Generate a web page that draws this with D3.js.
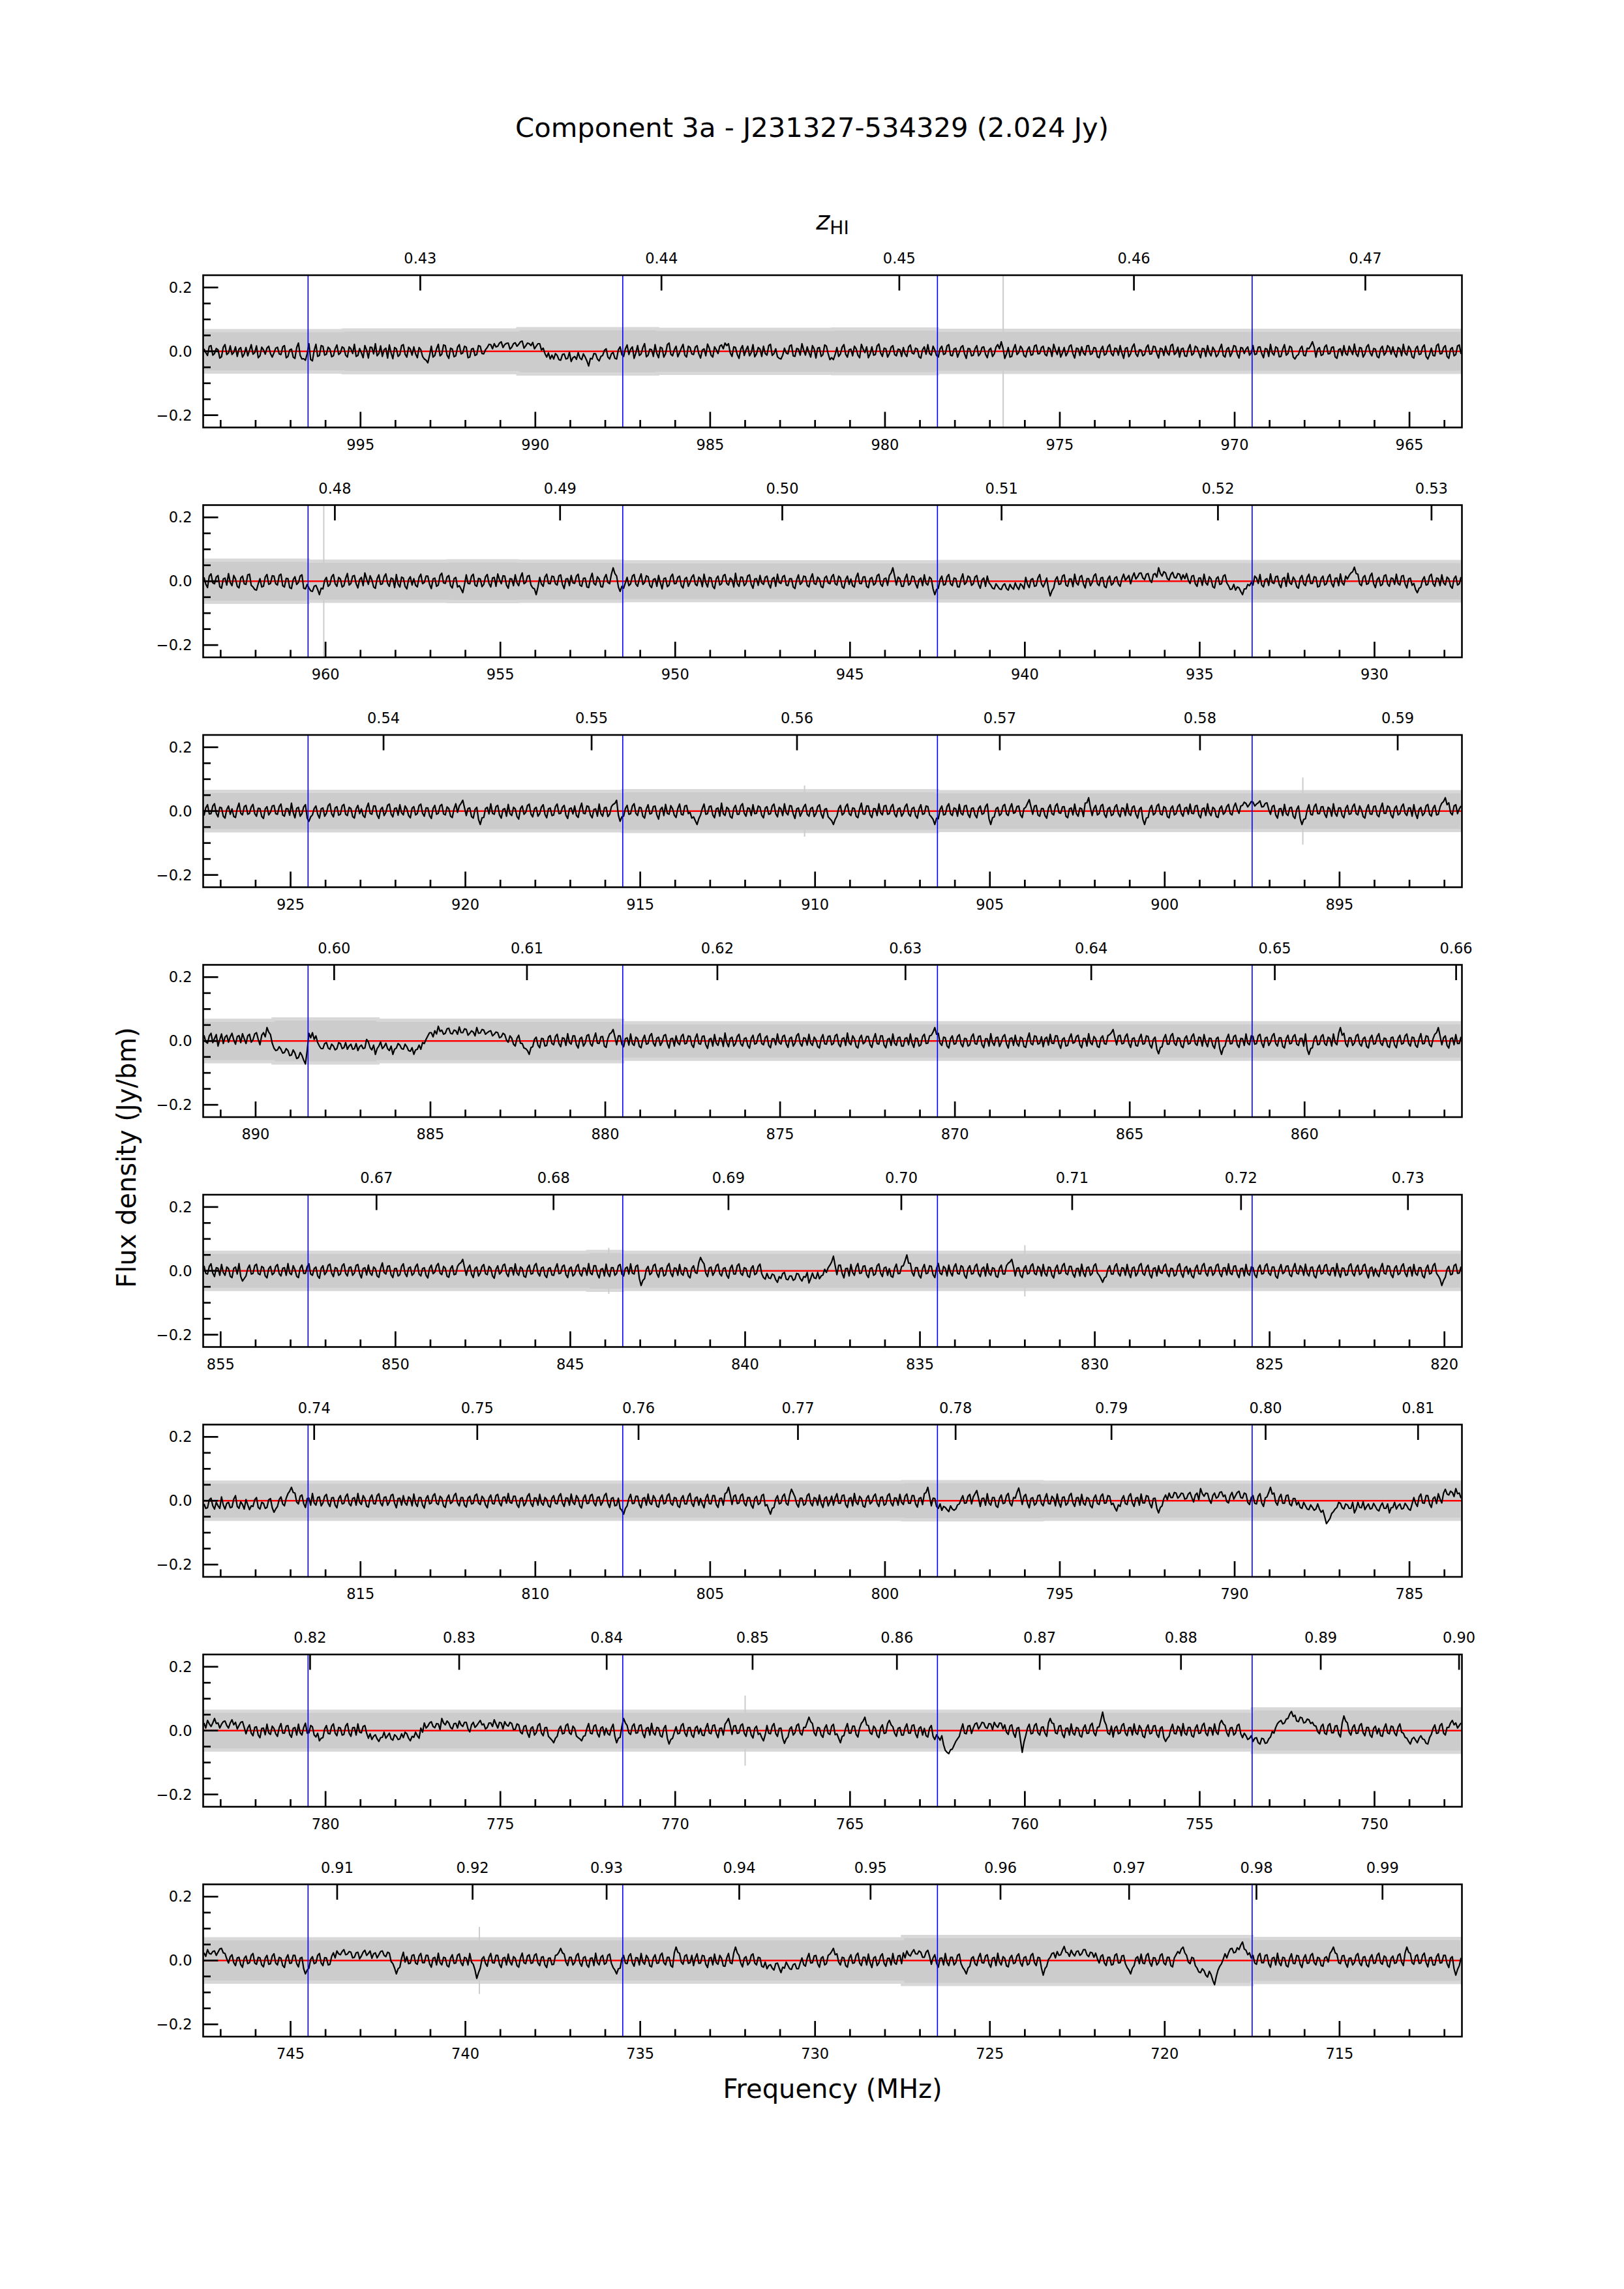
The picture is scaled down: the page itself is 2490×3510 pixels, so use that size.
<!DOCTYPE html>
<html><head><meta charset="utf-8">
<script src="https://cdn.jsdelivr.net/npm/d3@7/dist/d3.min.js"></script>
<style>body{margin:0;background:#fff}</style>
</head><body>
<script>
// ---------------- DATA ----------------
const titleText = "Component 3a - J231327-534329 (2.024 Jy)";
const xLabelText = "Frequency (MHz)";
const yLabelText = "Flux density (Jy/bm)";
const panelStart = [999.5, 963.5, 927.5, 891.5, 855.5, 819.5, 783.5, 747.5]; // MHz, left edge of each row
const panelSpan = 36;      // MHz per row
const chanWidth = 0.05;    // MHz per spectrum sample
const restFreq = 1420.405752;
const yTicks = [-0.2, 0.0, 0.2];
const zTicks = [
  [0.43,0.44,0.45,0.46,0.47],
  [0.48,0.49,0.50,0.51,0.52,0.53],
  [0.54,0.55,0.56,0.57,0.58,0.59],
  [0.60,0.61,0.62,0.63,0.64,0.65,0.66],
  [0.67,0.68,0.69,0.70,0.71,0.72,0.73],
  [0.74,0.75,0.76,0.77,0.78,0.79,0.80,0.81],
  [0.82,0.83,0.84,0.85,0.86,0.87,0.88,0.89,0.90],
  [0.91,0.92,0.93,0.94,0.95,0.96,0.97,0.98,0.99]
];
const markerLines = [996.5,987.5,978.5,969.5,960.5,951.5,942.5,933.5,924.5,915.5,906.5,897.5,
  888.5,879.5,870.5,861.5,852.5,843.5,834.5,825.5,816.5,807.5,798.5,789.5,780.5,771.5,762.5,753.5,
  744.5,735.5,726.5,717.5];
const modelLevel = [0, 0]; // Jy, fitted baseline
// noise envelope half-width (mJy) per 1 MHz
const bandHalf1 = [65,65,65,65,67,67,67,67,67,71,71,71,71,69,69,69,69,69,70,70,70,66,66,66,66,66,66,66,66,66,66,66,66,66,66,66];
const bandHalf2 = [66,66,66,63,63,63,63,64,64,63,63,63,61,61,61,61,61,61,61,61,61,62,62,62,62,62,62,62,62,62,62,62,62,62,62,62];
const bandHalf3 = [62,62,62,62,62,62,62,62,62,62,62,62,64,64,64,64,64,64,64,64,64,61,61,61,61,61,61,61,61,61,61,61,61,61,61,61];
const bandHalf4 = [65,65,69,69,69,65,65,65,65,65,65,65,57,57,57,57,57,57,57,57,57,57,57,57,57,57,57,57,57,57,57,57,57,57,57,57];
const bandHalf5 = [58,58,58,58,58,58,58,58,58,58,58,61,58,58,58,58,58,58,58,58,58,58,58,58,58,58,58,58,58,58,58,58,58,58,58,58];
const bandHalf6 = [58,58,58,58,58,58,58,58,58,58,58,58,58,58,58,58,58,58,58,58,60,60,60,60,58,58,58,58,58,58,58,58,58,58,58,58];
const bandHalf7 = [61,61,61,61,61,61,61,61,61,61,61,61,61,61,61,61,61,61,61,61,61,61,61,61,61,61,61,61,61,61,68,68,68,68,68,68];
const bandHalf8 = [68,68,68,68,68,68,68,68,68,68,68,68,68,68,68,68,68,68,68,68,75,75,75,75,75,75,75,75,75,75,69,69,69,69,69,69];
// narrow envelope spikes: [MHz, half-width Jy]
const bandSpikes = [[976.62,1.0],[960.05,1.0],[910.3,0.08],[896.05,0.105],[843.9,0.072],[832.0,0.08],[768.0,0.11],[739.6,0.105]];
// spectra (mJy), one sample per 0.05 MHz from the left edge of each row
const spec1 = [
8,-4,-13,16,18,-12,-7,9,5,-21,-17,13,21,-10,-5,17,-10,-3,14,-16,7,12,-18,-8,12,-14,3,21,-9,-4,17,-20,-14,13,5,-9,10,16,-7,-18,
-5,10,13,-8,-10,14,18,-20,-16,4,7,-18,-22,12,26,-13,-24,-23,-28,-7,24,-26,-30,3,22,-16,-13,18,16,-12,-9,13,7,-17,-14,8,20,-10,-5,14,
10,-12,-18,14,8,-7,22,-16,-13,9,-5,-20,18,4,-21,13,12,-8,24,-14,-7,17,-16,5,10,-21,20,-5,-23,12,8,-16,-10,18,21,-9,-18,13,7,-12,
14,-8,-20,12,5,-16,-24,-28,-36,-13,16,-18,-13,8,22,-14,-9,20,18,-12,-22,10,7,-17,-14,13,21,-8,-5,16,13,-20,-18,7,9,-13,-10,18,16,-7,
-8,5,12,22,21,8,24,14,16,26,30,12,21,25,26,7,13,24,27,16,22,30,32,10,17,26,24,18,28,8,16,24,24,4,10,-7,-18,-5,-24,-12,
-24,-7,-13,-26,-28,-10,-8,-24,-22,-3,-32,-20,-16,-25,-4,-21,-26,-8,-18,-30,-46,-22,-24,-7,-8,-24,-30,-16,-13,3,8,-18,-24,-8,-3,-22,-24,5,14,-10,
-16,8,20,-10,7,14,-22,-5,18,-13,-8,12,24,-17,-12,7,5,-16,21,-7,-20,13,10,-18,-7,21,26,-9,-14,5,16,-17,-4,10,22,-12,-18,16,12,-8,
-10,13,18,-8,-21,4,8,-14,23,10,-12,-18,14,5,-7,16,20,8,26,18,24,-5,-16,14,12,-10,-22,7,18,-13,4,16,-14,-4,21,-17,-8,12,7,-16,
16,-7,-12,18,22,-13,-7,8,-17,-22,-24,-12,10,-5,-8,17,20,-14,-16,9,7,-12,24,4,-12,14,-4,-18,18,7,-21,10,12,-16,-10,20,16,-8,-26,-20,
-26,-10,12,-16,-8,13,21,-9,-18,5,7,-14,16,8,-12,-20,22,7,-4,14,-20,-8,14,-12,-10,17,23,-5,-16,10,8,-18,-7,13,18,-10,-14,7,5,-16,
12,-8,-16,14,20,-5,-8,10,7,-17,-21,5,14,-9,21,-7,-12,16,4,-13,-18,8,16,-10,-7,17,21,-12,-14,7,10,-18,-4,13,18,-8,-22,9,8,-14,
-12,8,18,-14,-7,12,14,-9,-20,4,10,-16,-8,13,21,8,30,10,-22,-8,12,-18,-16,7,21,-10,-4,16,8,-13,-18,5,14,-12,-10,17,20,-8,-7,12,
16,-9,-14,12,7,-16,22,4,-10,13,-18,-5,12,-14,-4,16,20,-8,-21,10,8,-13,14,-5,-12,17,18,-10,-7,12,10,-17,-20,5,16,-12,-8,14,21,-7,
-14,10,8,-12,18,-5,-22,9,12,-17,-7,14,23,-8,-16,5,4,-14,-10,12,20,-9,-8,16,14,-7,-21,10,7,-13,16,-5,-12,18,22,-10,-4,13,-18,7,
10,-14,-16,8,21,-12,-7,16,12,-5,-20,9,8,-16,18,-4,-14,13,4,-17,-10,8,22,-13,-18,7,12,-16,-4,18,16,-9,-21,12,10,-7,7,14,-12,-4,
18,-10,-8,13,14,-7,-20,9,7,-16,22,-5,-12,14,10,-17,-16,7,21,-12,-7,16,12,-18,-24,-14,-10,8,16,-12,-14,10,8,18,30,13,-18,7,12,-13,
-10,14,20,-8,-7,12,14,-17,-22,5,8,-13,18,-7,-12,16,4,-10,23,-8,-16,12,10,-18,-8,14,21,-5,-14,9,7,-16,-20,8,16,-12,-4,18,12,-9,
14,-7,-18,12,8,-14,22,-5,-12,16,7,-17,-21,8,16,-10,-8,13,20,-16,-24,-10,10,-13,-14,18,23,-8,-7,12,18,-16,-22,7,12,-14,-10,17,20,-8];
const spec2 = [
12,-9,-20,16,23,-5,-8,13,18,-17,-22,7,10,-12,24,-4,-14,18,7,-16,-21,10,16,-8,-10,20,22,-13,-18,-26,-28,-8,8,-18,-16,13,21,-10,-7,17,
16,-8,-12,18,22,-14,-18,9,8,-20,-23,5,14,-10,-4,16,20,-22,-24,-10,-21,-30,-32,-16,-13,-26,-42,-22,-24,3,12,-16,-10,14,21,-8,-16,12,7,-18,
-14,9,24,-12,-7,16,18,-8,-21,5,12,-14,26,7,-10,17,4,-18,-22,8,20,-10,-8,14,23,-7,-16,10,7,-20,21,-9,-18,13,10,-16,-24,5,14,-12,
8,-13,-18,12,22,-8,-4,16,16,-10,-23,7,10,-16,-12,18,25,-5,-7,13,18,-14,-21,8,12,-18,-14,-24,-36,-10,20,-7,-8,16,22,-12,-16,9,7,-17,
-10,14,21,-7,-18,10,12,-16,23,5,-8,17,16,-12,-22,8,7,-14,20,-5,-14,12,26,-8,-4,16,18,-12,-21,-24,-42,-18,12,-9,-16,13,22,-7,-8,16,
14,-8,-12,17,20,-10,-23,7,8,-14,18,-5,-7,16,22,-12,-16,9,10,-18,-20,8,25,-7,-12,14,7,-17,-18,10,21,-4,-8,22,42,24,16,-18,-32,-16,
-22,-5,12,-14,-8,16,21,-9,-16,7,23,-10,-4,17,14,-13,-20,5,8,-16,18,-4,-24,8,10,-17,-12,14,22,-8,-7,12,16,-14,-21,7,12,-16,-4,13,
20,-9,-14,13,7,-17,22,-5,-18,12,10,-16,-23,8,16,-12,-8,17,21,-7,-12,10,4,-18,25,-8,-16,13,12,-14,-7,17,20,-10,-22,7,8,-13,18,-5,
-10,12,16,-9,-21,7,12,-16,22,-4,-7,14,18,-12,-14,8,8,-18,-23,5,20,-10,-4,16,14,-13,-18,9,23,-7,-10,13,7,-17,-20,10,16,-5,-8,14,
21,-8,-12,16,10,-17,-22,5,16,-10,7,-14,-18,12,25,-7,-8,13,14,-16,-20,8,12,-12,-7,17,22,-9,-16,7,10,-13,18,26,42,16,-12,13,8,-16,
-16,9,22,-12,-7,16,14,-8,-21,5,10,-14,20,-7,-12,13,7,-24,-42,-26,-22,5,16,-12,-10,14,21,-8,-14,10,8,-17,-18,7,23,-10,-4,16,12,-13,
-8,13,18,-10,-22,4,10,-16,16,-5,-12,-22,-24,-8,-16,-24,-26,-13,-8,-23,-28,-10,-20,-25,-5,-18,-26,-8,-14,-24,12,-9,-20,5,8,-16,-14,10,21,-8,
-18,-5,10,-24,-46,-30,-21,5,14,-10,-8,16,20,-12,-16,7,7,-17,22,-5,-12,13,18,-9,-21,8,8,-14,-4,17,23,-8,-14,10,12,-16,-20,7,16,-12,
-7,10,14,-9,-16,8,22,3,10,18,-8,13,26,7,14,25,26,10,5,22,24,4,-4,21,24,13,42,24,16,30,26,8,4,21,28,12,10,24,22,5,
20,8,24,3,-7,16,18,-8,-16,10,10,-13,22,-5,-12,14,7,-17,-21,8,14,-10,-8,16,20,-5,-14,-26,-24,-10,-28,-18,-21,-32,-42,-24,-24,-10,-14,-4,
-12,16,10,-7,21,-12,-18,5,8,-13,23,-4,-7,14,16,-10,-20,8,12,-16,25,-5,-10,13,4,-17,-22,9,18,-8,-14,12,22,-7,-7,14,12,-18,-16,8,
16,-12,-8,13,21,-7,-18,9,10,-14,23,-5,-12,16,7,18,26,30,44,24,22,-8,-14,12,18,-10,-7,16,25,-8,-20,5,12,-14,-10,17,20,-9,-16,10,
8,-10,22,-7,-12,16,18,-9,-21,7,10,-13,-7,-26,-36,-22,-18,4,14,-12,-10,16,22,-8,-16,10,8,-14,20,-5,-12,13,7,-16,-22,8,16,-12,-8,13];
const spec3 = [
-14,10,20,-9,-8,16,23,-7,-18,12,10,-16,-22,5,16,-10,7,-17,-20,8,25,-7,-12,14,18,-10,-7,13,21,-8,-16,9,8,-17,-23,7,14,-12,-4,16,
18,-8,-10,14,22,-12,-16,8,7,-13,25,-5,-21,9,12,-16,-8,13,20,-22,-32,-18,-12,8,16,-10,-22,7,10,-16,-7,17,23,-8,-18,10,14,-13,-10,16,
21,-10,-14,12,8,-17,-22,7,18,-8,7,-14,-20,10,25,-7,-10,16,16,-12,-23,5,12,-14,-4,18,22,-9,-18,8,10,-13,20,-5,-12,16,7,-14,-21,9,
14,-12,-8,17,22,-7,-16,10,10,-14,-23,8,18,-10,-7,16,21,-9,-12,13,8,-16,-20,7,23,-4,16,24,34,10,-14,8,10,-17,-22,5,12,-26,-42,-21,
-20,8,12,-9,23,-7,-10,14,18,-12,-22,5,8,-16,21,-8,-14,12,7,-17,-25,8,16,-10,-4,17,22,-9,-18,7,12,-16,-8,13,20,-10,-21,7,10,-14,
-12,14,22,-8,-7,12,18,-13,-23,7,10,-9,16,-14,-20,8,25,-7,-8,16,14,-12,-21,5,7,-16,22,-8,-16,10,12,-17,-10,14,21,24,34,-13,-32,-18,
-16,8,18,-10,-8,16,23,-7,-14,12,10,-16,-22,7,20,-9,-7,14,16,-12,-25,5,12,-14,21,-7,-10,17,7,-13,-20,8,22,-10,-12,16,18,-8,-4,-22,
-18,-30,-42,-24,-12,8,22,-10,-8,14,16,-12,-21,7,10,-16,25,-8,-14,12,7,-17,-22,8,18,-10,-10,16,23,-7,-16,10,8,-14,20,-8,-7,16,12,-13,
-21,9,14,-10,-8,16,22,-8,-18,12,7,-14,23,-5,-12,17,16,-9,-23,7,10,-16,-4,13,21,-10,-16,8,12,-17,-8,14,20,-9,-22,5,8,-18,-24,-30,
-42,-26,-16,8,18,-12,-7,14,22,-8,-14,10,8,-16,-21,7,25,-9,-10,16,16,-12,-20,8,7,-14,23,-5,-12,16,18,-10,-8,13,21,-9,-18,7,10,-16,
-7,14,22,-9,-16,8,12,-14,-22,7,20,-10,-8,16,14,-12,-18,-26,-42,-22,-24,5,16,-12,-10,14,23,-8,-14,10,7,-16,21,-7,-12,16,18,-10,-20,8,
10,-12,-21,8,16,-10,-7,14,22,-24,-42,-21,-18,7,12,-14,-8,16,21,-9,-14,10,23,-7,-4,14,16,-12,-20,8,12,24,36,13,-10,16,18,-12,-16,8,
8,-14,-22,9,20,-8,-12,16,23,-5,-7,13,14,-16,-21,7,10,-12,22,-8,-16,10,7,-17,25,26,42,10,-14,8,18,-12,-8,16,21,-10,-20,7,12,-14,
-10,13,20,-8,-18,10,8,-14,23,-7,-14,12,16,-10,-22,5,12,-26,-42,-22,-20,7,18,-12,-7,16,22,-9,-12,14,10,-17,-21,8,16,-12,-8,14,21,-7,
-16,9,12,-10,22,-7,-8,16,18,-12,-21,7,10,-14,23,-5,-14,12,7,-17,-20,8,16,-10,-4,14,21,-8,-12,13,25,5,-7,16,18,28,24,13,21,30,
28,16,22,26,32,13,14,24,26,5,-10,14,18,-12,-22,7,8,-14,21,-8,-14,10,12,-16,-23,5,16,-24,-42,-26,-24,4,20,-10,-12,14,22,-8,-8,13,
14,-9,-20,12,7,-16,23,-7,-16,10,10,-14,-21,8,18,-10,-8,14,22,-8,-12,16,4,-17,-22,7,20,-9,-10,14,16,-12,-18,8,25,-7,-7,16,12,-13,
-21,8,16,-12,-8,14,22,-7,-14,10,10,-16,20,-8,-23,5,12,-14,-7,16,21,-10,-16,9,18,-12,-10,13,25,30,42,20,26,-5,-12,16,20,-8,7,16];
const spec4 = [
18,-3,-7,16,24,-5,8,20,-16,4,22,-8,12,18,-4,13,24,3,-10,14,17,-5,23,7,-8,16,21,-4,4,22,26,5,-12,18,26,13,42,28,20,-7,
-22,-30,-28,-18,-26,-38,-36,-24,-30,-46,-44,-28,-38,-55,-52,-36,-45,-60,-72,-30,24,10,26,5,16,-5,-16,-24,-24,-8,-5,-22,-26,-10,-16,-28,-24,-5,-8,-24,
-21,-5,-26,-16,-10,-26,-24,-8,-30,-18,-13,-24,-22,5,-3,-21,-28,-13,-42,-24,-16,-3,-24,-18,-7,-24,-30,-16,-42,-26,-22,-8,-13,-24,-26,-10,-18,-30,-32,-21,
-42,-28,-26,-13,-26,-5,-8,5,16,26,26,13,32,22,46,30,34,21,24,38,40,24,22,34,32,21,44,26,26,38,36,18,24,32,28,16,42,24,25,36,
34,21,26,30,32,16,21,28,26,10,13,24,20,3,-4,16,9,-10,-16,8,18,-7,-8,-22,-24,-30,-42,-21,-18,5,12,-13,-21,8,7,-16,-14,12,17,-8,
-12,14,21,-8,-18,10,8,-14,23,-5,-10,16,16,-12,-22,7,12,-16,-7,17,20,-9,-16,8,25,-7,-8,13,14,-16,-20,8,22,26,36,13,-12,16,16,-10,
-18,7,10,-13,22,-8,-14,12,7,-17,-21,5,18,-10,-8,16,23,-7,-16,9,12,-14,-4,17,20,-8,-22,7,8,-16,16,-5,-12,14,21,-9,-7,16,14,-12,
-20,9,22,-8,-10,14,16,-12,-23,5,8,-16,20,-7,-14,10,7,-17,25,-5,-18,8,12,-16,-8,14,21,-9,-16,7,10,-14,-22,8,18,-10,-7,16,23,-8,
-12,10,16,-14,-21,7,7,-12,22,-5,-10,14,18,-9,-20,8,12,-16,-7,17,23,-8,-16,10,8,-13,21,-7,-14,12,4,-17,-22,8,20,-9,-10,14,16,-12,
-8,16,21,-10,-18,7,10,-14,25,-5,-12,16,7,-17,-22,8,18,-9,-4,14,14,-12,-20,7,23,-8,-10,16,16,-13,-21,5,8,-14,22,-7,-14,10,12,-16,
-16,8,10,-12,22,-7,-20,9,8,-16,-12,14,21,-8,-7,16,18,28,42,21,24,-7,-14,12,10,-16,-22,7,16,-10,-8,14,20,-9,-18,8,7,-16,-12,13,
22,-8,-10,14,16,-12,-21,7,7,-16,23,-5,-14,10,12,-17,-4,14,20,-9,-22,7,10,-14,18,-8,-16,12,8,-17,-20,7,25,-8,-12,16,14,-10,-7,13,
-18,7,12,-13,21,-7,-8,16,16,-10,-23,5,10,-16,-14,9,22,-7,-4,14,18,-12,-21,8,8,-16,23,-5,-12,14,7,-17,-20,9,16,-8,-10,17,20,26,
36,10,-12,16,18,-9,-7,14,22,-8,-20,7,10,-14,-16,8,21,-10,-8,16,14,-12,-22,5,12,-26,-40,-21,-18,8,20,-10,-10,16,23,-7,-14,10,8,-16,
-21,8,16,-10,-7,14,22,-8,-14,12,10,-16,20,-5,-18,9,8,-14,-23,7,12,-24,-42,-22,-16,7,21,-9,-8,14,18,-12,-20,8,7,-14,22,-7,-12,16,
14,-10,-8,16,21,-7,-20,9,12,-14,-4,16,23,-8,-16,10,10,-17,-22,7,18,-9,-7,14,20,-10,-14,8,8,-16,22,-26,-42,-24,-21,7,16,-12,-10,14,
20,-8,-14,12,8,-16,22,-5,-12,24,42,18,24,-8,-18,10,10,-14,-7,16,21,-9,-16,7,12,-17,-22,8,18,-10,-8,14,23,-7,-14,9,7,-16,-20,10,
12,-13,-21,8,18,-10,-7,16,22,-8,-16,12,10,-14,-20,7,23,-9,-8,16,14,-12,-18,7,21,26,42,16,-12,10,16,-14,-22,7,10,-12,20,-8,-8,13];
const spec5 = [
16,-8,-10,14,22,-7,-18,10,8,-14,20,-5,-14,12,7,-17,-21,8,12,-10,23,-18,-32,-24,-16,7,18,-10,-8,16,21,-9,-12,14,10,-16,-22,7,14,-12,
-7,14,20,-9,-16,8,10,-14,23,-7,-12,16,4,-17,-21,9,18,-8,-8,13,22,-10,-14,7,12,-16,-23,8,16,-12,-4,17,21,-7,-18,10,8,-14,-10,16,
22,-8,-16,10,12,-14,-7,17,20,-9,-22,7,10,-13,18,-7,-14,12,7,-16,-20,8,25,-5,-10,14,16,-12,-21,7,8,-16,-12,14,22,-8,-18,9,12,-14,
-8,13,21,-10,-16,7,10,-14,-22,8,18,-9,-4,16,23,-7,-12,14,8,-17,-20,7,16,-12,-10,14,22,26,36,10,-14,8,18,-10,-21,7,12,-16,-7,14,
20,-9,-12,14,8,-16,-23,5,16,-10,-4,17,21,-8,-18,9,10,-13,22,-7,-14,12,7,-17,-20,8,18,-10,-8,16,23,-7,-16,9,12,-14,-21,7,10,-13,
-14,8,22,-9,-7,14,18,-12,-21,7,12,-16,-10,13,20,-8,-16,9,8,-14,23,-7,-12,16,16,-10,-22,5,7,-16,21,-8,-18,10,10,-14,-8,16,20,-10,
-16,8,12,-10,22,-7,-10,14,18,-24,-46,-30,-24,5,14,-12,-7,16,21,-8,-20,7,10,-16,-12,14,23,-7,-18,9,8,-14,20,-8,-14,10,7,-16,-22,8,
16,-5,-8,26,42,30,22,-7,-18,9,12,-14,-4,16,21,-9,-16,7,10,-14,-23,8,18,-10,-10,16,22,-8,-14,10,7,-16,-20,8,16,-12,-8,14,21,-9,
-21,-26,-8,-22,-24,-10,-13,-28,-36,-18,-24,-8,-5,-26,-28,-16,-16,-30,-26,-8,-10,-24,-32,-18,-20,-5,-38,-24,-7,-22,-24,-5,-25,-16,-13,5,-5,10,18,28,
46,16,-12,17,18,-8,-22,7,8,-16,20,-5,-14,12,23,-8,-7,14,16,-12,-21,7,10,-14,-10,16,22,-7,-18,9,12,-14,7,-17,-20,8,21,-9,-8,14,
16,32,50,24,24,-5,-16,10,10,-14,-22,7,20,-9,-7,16,14,-12,-21,8,23,-7,-12,14,8,-16,18,-5,-16,12,22,-8,-10,16,12,-14,-23,7,16,-10,
-8,14,21,-9,-18,7,12,-16,22,-7,-14,10,7,-17,-20,8,18,-10,-10,16,24,28,36,13,-16,8,10,-14,-21,7,16,-10,-7,16,22,-8,-12,14,8,-16,
20,-8,-16,12,10,-14,-22,7,18,-9,-7,16,23,-8,-12,14,14,-10,-20,7,8,-16,21,-7,-18,10,12,-14,-8,16,22,-7,-14,-24,-36,-22,-18,5,16,-10,
-10,14,22,-8,-16,10,8,-14,20,-7,-21,9,12,-16,-7,17,23,-8,-14,10,18,-12,-22,7,10,-16,16,-5,-8,14,21,-9,-18,8,7,-16,-12,14,22,-8,
-20,8,14,-10,8,-16,-22,7,18,-9,-10,16,23,-7,-16,10,12,-14,-7,17,21,-8,-18,9,10,-13,22,-7,-12,14,16,-10,-21,7,8,-16,20,-8,-14,12,
10,-12,-21,8,18,-10,-8,16,22,-7,-14,12,12,-17,-23,5,20,-9,-4,14,16,-12,-18,8,23,-7,-10,16,8,-14,21,-8,-16,10,12,-16,-22,7,18,-10,
-7,16,20,-9,-14,8,10,-16,23,-5,-20,9,8,-14,-12,16,22,-8,-16,10,18,-12,-8,16,21,-7,-22,8,12,-16,7,-10,-18,8,23,-7,-10,16,14,-12,
-21,8,16,-12,-8,14,22,-7,-18,9,12,-16,20,-8,-14,10,10,-16,-22,7,18,-10,-7,16,23,-8,-16,-26,-46,-30,-20,5,14,-12,-10,16,21,-8,-7,13];
const spec6 = [
-10,-24,-22,3,8,-16,-26,-5,-16,-24,12,-13,-26,-8,-5,-22,-20,5,16,-18,-24,-3,-12,-26,4,-13,-28,-16,-18,3,10,-21,-26,-5,-8,-24,-21,3,7,-22,
-36,-26,-18,4,12,-10,-16,8,22,30,42,26,24,-4,-10,14,18,-9,-21,7,8,-14,23,-7,-14,10,12,-16,-7,14,20,-8,-18,9,10,-14,-22,7,16,-10,
-8,13,21,-9,-16,7,10,-14,23,-5,-12,16,7,-17,-20,8,18,-9,-10,16,22,-7,-16,10,12,-14,-4,17,20,-8,-22,7,8,-14,16,-7,-14,12,7,-16,
21,-8,-18,10,10,-14,-23,7,16,-10,-7,16,22,-8,-12,14,8,-16,-21,7,18,-9,-4,16,23,-7,-16,10,10,-14,-20,8,14,-10,-8,16,21,-7,-12,14,
7,-13,-22,8,18,-9,-10,16,20,-7,-16,10,12,-8,23,-5,-8,14,14,-12,-21,7,10,-16,-7,14,22,-8,-18,9,8,-14,20,-7,-14,10,4,-16,-20,8,
16,-8,-10,14,22,-7,-18,9,8,-14,21,-5,-12,16,7,-17,-23,8,18,-9,-8,16,20,-7,-16,10,12,-14,-4,16,23,-8,-21,7,10,-16,-14,8,-24,-30,
-42,-24,-16,7,20,-9,-8,14,14,-12,-22,7,10,-14,21,-7,-12,16,7,-17,-20,8,18,-10,-7,16,22,-8,-14,10,8,-16,-21,7,16,-10,-10,14,23,-8,
-18,8,12,-14,7,-10,-22,8,20,-9,-10,16,16,-12,-21,7,8,-14,22,26,42,18,-12,14,18,-9,-7,16,21,-8,-16,10,10,-14,-23,7,14,-12,-8,16,
20,-16,-12,-28,-42,-24,-21,5,16,-10,-7,14,21,-8,-14,18,36,24,12,-10,-20,8,8,-14,-10,16,22,-7,-16,10,7,-14,18,-8,-21,7,12,-16,-4,14,
-14,9,22,-8,-8,16,18,-12,-21,7,10,-16,23,-5,-12,14,7,-17,-20,8,16,-10,-4,14,21,-8,-18,10,12,-14,-10,16,22,-7,-16,9,8,-14,20,-5,
-12,14,21,-8,-8,16,16,-10,-20,7,10,-12,22,26,42,13,-16,8,7,-18,-24,-10,-30,-18,-21,-28,-34,-16,-26,-30,-26,-13,-10,4,16,-8,-7,14,20,-10,
12,22,32,8,-18,7,8,-14,22,-7,-14,10,10,-16,-21,7,18,-9,-7,16,23,-8,-16,10,8,26,40,16,-12,14,20,-8,-22,7,10,-14,-8,16,18,-9,
-16,8,22,-9,-10,14,7,-16,21,-7,-20,10,12,-14,-8,16,23,-7,-18,9,10,-14,20,-8,-14,10,7,-16,-22,8,18,-9,-12,14,21,-8,-7,16,14,-12,
-8,-22,-32,-13,-18,5,16,-9,-12,14,22,-7,-18,8,10,-14,21,-7,-7,16,14,-10,-22,7,8,-24,-38,-21,-16,7,18,3,24,10,10,26,24,8,14,24,
22,5,7,21,26,10,-4,18,24,3,38,22,14,24,23,3,-8,16,24,8,12,26,28,13,18,-3,-7,16,26,5,16,26,30,10,8,24,21,-5,-12,10,
16,-8,-10,14,22,-7,-18,9,12,26,42,21,24,-5,-14,10,20,-8,-8,16,18,-10,-16,7,7,-13,-4,-21,-24,-5,-16,-26,-28,-13,-21,-30,-26,-10,-26,-36,
-30,-50,-72,-64,-56,-40,-34,-26,-21,-5,-8,-22,-26,-10,-13,-24,-24,-5,-38,-26,-5,-21,-22,-3,-28,-18,-10,-26,-24,-8,-18,-28,-32,-16,-7,-24,-24,-10,-38,-22,
-21,-5,-26,-16,-10,-26,-24,-8,-16,-26,-30,-10,10,-8,-18,12,21,-7,-8,16,16,-10,-21,7,12,-9,22,5,-7,24,36,21,18,30,26,13,38,22,24,8];
const spec7 = [
24,8,32,21,13,24,38,22,24,8,20,28,30,16,8,24,34,18,26,5,16,26,28,10,-10,8,18,-8,-16,10,12,-14,-22,7,8,-13,20,-7,-12,14,
7,-10,-18,9,22,-8,-8,14,16,-12,-21,7,10,-14,20,-7,-14,10,23,-8,-7,16,12,-14,-20,-8,-32,-24,-22,5,16,-9,-10,14,21,-8,-16,10,8,-14,
-12,14,22,-8,-18,9,10,-14,21,-5,-7,13,16,-8,-24,-10,-28,-18,-13,-26,-34,-22,-21,-5,-24,-16,-8,-26,-30,-13,-18,-28,-26,-10,-22,-5,-10,-24,-32,-18,
-21,-5,-16,-24,8,-5,24,8,14,24,28,13,9,22,21,3,38,24,18,30,24,10,5,22,23,8,30,18,13,26,26,5,-4,18,26,10,16,24,32,18,
21,5,10,24,24,13,34,21,8,26,24,5,28,18,14,26,22,3,4,21,18,-5,-10,13,16,-8,-21,7,12,-14,-7,16,22,-8,-16,9,10,-18,-24,-30,
-38,-24,-18,5,14,-10,-8,16,21,-7,-12,14,7,-17,-22,-26,-32,-18,-16,7,22,-8,-10,14,18,-9,-20,8,12,-14,7,-10,-14,8,20,-18,-38,-24,-21,13,
38,24,16,-7,-12,14,21,-8,-7,16,18,-10,-22,7,10,-14,23,-7,-14,10,8,-16,-20,7,16,-24,-42,-28,-24,-5,12,-10,-8,16,22,-7,-18,9,10,-14,
-21,8,14,-10,7,-14,-16,8,22,-7,-10,16,18,-9,-22,7,8,-14,20,28,38,16,-12,14,16,-9,-7,16,21,-8,-18,10,10,-14,-23,7,14,-12,-8,-22,
-32,-13,16,-8,-10,14,22,-9,-18,7,8,-24,-40,-26,-20,5,12,-14,-7,16,21,-8,-14,10,10,26,42,28,22,-7,-16,10,8,-14,-21,7,18,-9,-12,14,
20,-13,-10,-24,-38,-18,-16,7,22,-8,-8,14,14,-12,-20,8,23,30,42,18,16,-7,-12,14,7,-16,-22,8,18,-9,-7,22,32,18,12,-8,-18,7,10,-14,
-14,9,21,-8,-8,16,18,-10,-22,7,12,-14,7,-16,-20,8,16,-18,-28,-13,-21,-30,-16,-44,-62,-68,-72,-60,-58,-46,-34,-26,-18,3,21,-8,-10,14,16,-9,
8,21,24,5,14,26,24,10,7,22,21,3,26,16,10,24,23,5,18,-5,-12,14,18,-9,-21,7,10,-30,-68,-36,-16,8,20,-10,-8,16,22,-7,-14,10,
12,-8,-18,24,38,24,22,-7,-10,14,16,-12,-22,7,8,-14,21,-8,-14,10,7,-16,-20,8,18,-9,-8,16,23,-7,-16,10,12,34,58,30,18,-8,-12,14,
-20,8,14,-10,-7,16,22,-8,-16,9,10,-14,21,-7,-12,16,7,-17,-22,7,18,-10,-8,14,16,-12,-21,7,12,-22,-34,-24,-18,5,20,-9,-10,14,8,-16,
22,-8,-14,10,10,-16,-20,7,18,-9,-7,16,23,-8,-16,10,8,-14,21,-5,-12,22,32,21,16,-7,-18,8,10,-14,-8,16,20,-10,-22,-8,-16,-28,-24,-16,
-34,-24,-22,-38,-42,-24,-26,-40,-38,-26,-20,-3,-8,10,22,28,32,21,24,36,38,52,60,44,48,30,28,42,40,24,26,36,34,22,26,16,14,-3,-10,13,
20,-8,-12,16,22,-7,-7,14,16,-10,-20,24,46,30,24,-5,-14,10,18,-9,-8,16,22,-7,-16,10,10,-14,-21,7,14,-10,7,-16,-18,8,21,-7,-10,14,
12,-8,-16,10,21,-5,-8,-21,-24,-34,-42,-26,-21,-30,-38,-24,-16,-26,-28,-40,-42,-22,-12,7,18,-9,-7,16,22,-8,-14,10,10,24,32,18,24,8,16,24];
const spec8 = [
24,13,34,22,20,28,30,16,26,36,38,24,22,5,-8,12,18,-7,-16,8,10,-13,-21,7,14,-10,-7,16,22,-8,-12,10,8,-14,-20,7,16,-12,-10,14,
21,-8,-14,10,7,-16,-22,7,18,-9,-8,16,16,-10,-20,7,10,-26,-42,-30,-24,4,12,-10,-7,16,22,-8,-16,9,8,-14,-12,13,24,8,30,21,18,28,
34,18,20,28,26,8,10,24,26,5,14,26,32,16,22,30,7,21,24,8,18,28,30,16,12,26,23,-3,-10,-24,-42,-26,-21,7,26,-5,12,-10,-8,16,
18,-8,-12,14,22,-7,-7,16,16,-10,-21,7,10,-14,23,-7,-14,10,8,-16,-20,7,18,-9,-8,16,21,-7,-16,10,7,-14,22,-5,-12,-30,-56,-38,-24,5,
12,-9,-18,10,22,-7,-8,16,16,-12,-22,7,10,-14,20,-5,-14,12,7,-16,-21,8,23,-7,-10,14,18,-9,-7,16,21,-8,-16,10,12,-14,-22,7,8,-13,
-12,16,18,26,38,24,20,-5,-16,10,10,-14,-7,16,22,-8,-18,9,12,-14,-21,7,8,-16,23,-7,-14,10,16,-12,-8,16,20,-9,-22,-30,-42,-26,-24,5,
16,-8,-10,14,21,-7,-18,9,8,-14,22,-5,-12,16,7,-17,-20,8,18,-9,-8,16,23,-7,-14,10,10,-16,-21,24,42,26,22,-5,-12,14,18,-9,-7,16,
-16,8,21,-9,-8,16,14,-12,-22,7,10,-14,20,-7,-12,16,7,-17,-18,8,22,-7,-10,24,42,24,16,-8,-20,7,12,-14,-7,16,21,-8,-14,10,8,-18,
-21,-5,-26,-16,-13,-24,-30,-10,-8,-24,-38,-21,-24,-5,-16,-26,-28,-13,-10,-26,-26,-8,8,-13,-18,7,22,-8,-7,14,16,-10,-21,7,12,-14,-10,16,20,28,
38,18,21,-5,-14,10,8,-16,-21,7,18,-9,-7,16,23,-8,-16,10,10,-14,20,-7,-22,8,12,-16,-8,14,21,-9,-18,7,7,-14,22,-7,-12,14,16,-10,
24,8,30,18,14,26,34,21,20,30,26,10,10,26,32,13,-12,8,18,-9,-21,7,8,-14,22,-7,-16,10,10,-14,-7,16,20,-10,-22,-30,-42,-24,-18,7,
12,-10,-16,9,22,-7,-8,14,18,-10,-21,7,10,-16,23,-5,-14,12,7,-17,-20,8,16,-10,-7,14,21,-8,-18,9,12,-14,-10,16,22,-7,-16,10,8,-24,
-46,-26,-18,3,10,22,24,8,28,16,18,32,44,26,24,13,32,21,14,28,30,16,21,34,34,18,12,26,24,10,23,5,-8,13,18,-8,-16,10,10,-14,
-12,16,21,-8,-7,14,16,-10,-22,-30,-42,-24,-16,7,12,-10,20,-8,-10,16,22,-7,-18,9,8,-14,-7,16,21,-8,-14,10,10,-16,-20,8,18,28,22,36,
42,24,16,-5,-10,10,7,-16,-24,-36,-38,-26,-32,-46,-52,-34,-44,-62,-76,-50,-30,-18,-10,5,21,8,24,36,38,24,26,40,34,48,58,36,32,18,24,8,
16,-8,-12,14,22,-7,-7,16,18,-10,-21,7,10,-14,23,-7,-16,10,8,-16,-20,7,21,-9,-10,16,14,-12,-22,7,18,-9,-8,16,22,-7,-14,10,7,-16,
-18,8,12,-5,22,30,42,24,20,-7,-10,14,16,-9,-21,7,8,-14,-7,16,22,-8,-16,10,12,-14,-20,8,18,-9,-8,16,23,-7,-12,14,10,-16,-21,7,
14,-9,-7,16,21,-5,-16,24,42,26,22,-7,-12,14,18,-9,-8,16,23,-7,-20,8,10,-14,-14,12,21,-8,-7,16,16,-10,-22,7,12,-26,-46,-28,-16,8];

const spectra = [spec1, spec2, spec3, spec4, spec5, spec6, spec7, spec8];
const bands = [bandHalf1, bandHalf2, bandHalf3, bandHalf4, bandHalf5, bandHalf6, bandHalf7, bandHalf8];

// ---------------- LAYOUT ----------------
const W = 2490, H = 3510;
const L = 311.5, R = 2241.5, T0 = 422, STEP = 352.5, PH = 233.5;
const FONT = "'DejaVu Sans', sans-serif";
const tickFS = 22.5, labelFS = 40;

const svg = d3.select("body").append("svg")
  .attr("width", W).attr("height", H)
  .attr("font-family", FONT);
svg.append("rect").attr("width", W).attr("height", H).attr("fill", "#fff");
svg.append("defs").append("clipPath").attr("id", "pclip")
  .append("rect").attr("x", L).attr("y", 0).attr("width", R - L).attr("height", PH);

const y = d3.scaleLinear().domain([-0.2385, 0.2385]).range([PH, 0]);
const fmtY = v => (v < 0 ? "\u2212" : "") + Math.abs(v).toFixed(1);

panelStart.forEach((f0, p) => {
  const f1 = f0 - panelSpan;
  const x = d3.scaleLinear().domain([f0, f1]).range([L, R]);
  const g = svg.append("g").attr("transform", `translate(0,${T0 + STEP * p})`);
  const inner = g.append("g").attr("clip-path", "url(#pclip)");

  // noise envelope
  const bh = bands[p];
  const bpts = bh.map((v, i) => [f0 - i, v / 1000]);
  bpts.push([f1, bh[bh.length - 1] / 1000]);
  inner.append("path").datum(bpts)
    .attr("d", d3.area().x(d => x(d[0])).y0(d => y(-d[1])).y1(d => y(d[1])).curve(d3.curveStepAfter))
    .attr("fill", "#cccccc").attr("stroke", "#d8d8d8").attr("stroke-width", 5);

  // envelope spikes
  inner.selectAll(".spk").data(bandSpikes.filter(s => s[0] <= f0 && s[0] >= f1)).enter()
    .append("line")
    .attr("x1", d => x(d[0])).attr("x2", d => x(d[0]))
    .attr("y1", d => y(d[1])).attr("y2", d => y(-d[1]))
    .attr("stroke", "#cccccc").attr("stroke-width", 2);

  // model baseline (red)
  inner.append("path").datum(modelLevel.map((v, i) => [i === 0 ? f0 : f1, v]))
    .attr("d", d3.line().x(d => x(d[0])).y(d => y(d[1])))
    .attr("stroke", "#ff0000").attr("stroke-width", 2.6).attr("fill", "none");

  // spectrum (black)
  const spec = spectra[p];
  inner.append("path").datum(spec)
    .attr("d", d3.line().x((d, i) => x(f0 - chanWidth * (i + 0.5))).y(d => y(d / 1000)))
    .attr("stroke", "#000").attr("stroke-width", 2.2).attr("fill", "none")
    .attr("stroke-linejoin", "round");

  // marker lines (blue)
  inner.selectAll(".mk").data(markerLines.filter(m => m < f0 && m > f1)).enter()
    .append("line")
    .attr("x1", d => x(d)).attr("x2", d => x(d))
    .attr("y1", 0).attr("y2", PH)
    .attr("stroke", "#0000ff").attr("stroke-width", 1.6);

  // left ticks
  const yMinor = d3.range(-4, 5).map(k => k * 0.05);
  g.selectAll(".yt").data(yMinor).enter().append("line")
    .attr("x1", L).attr("x2", d => L + (Math.abs(Math.round(d * 20)) % 4 === 0 ? 23 : 11.5))
    .attr("y1", d => y(d)).attr("y2", d => y(d))
    .attr("stroke", "#000").attr("stroke-width", 2.7);
  g.selectAll(".yl").data(yTicks).enter().append("text")
    .attr("x", L - 17).attr("y", d => y(d) + 8)
    .attr("text-anchor", "end").attr("font-size", tickFS).text(fmtY);

  // bottom ticks
  const fInts = d3.range(Math.ceil(f1), Math.floor(f0) + 1);
  g.selectAll(".xt").data(fInts).enter().append("line")
    .attr("x1", d => x(d)).attr("x2", d => x(d))
    .attr("y1", PH).attr("y2", d => PH - (d % 5 === 0 ? 24 : 11.5))
    .attr("stroke", "#000").attr("stroke-width", 2.7);
  g.selectAll(".xl").data(fInts.filter(d => d % 5 === 0)).enter().append("text")
    .attr("x", d => x(d)).attr("y", PH + 34)
    .attr("text-anchor", "middle").attr("font-size", tickFS).text(d => d);

  // top redshift ticks
  const zt = zTicks[p];
  g.selectAll(".zt").data(zt).enter().append("line")
    .attr("x1", d => x(restFreq / (1 + d))).attr("x2", d => x(restFreq / (1 + d)))
    .attr("y1", 0).attr("y2", 23.5)
    .attr("stroke", "#000").attr("stroke-width", 2.7);
  g.selectAll(".zl").data(zt).enter().append("text")
    .attr("x", d => x(restFreq / (1 + d))).attr("y", -18)
    .attr("text-anchor", "middle").attr("font-size", tickFS).text(d => d.toFixed(2));

  // frame
  g.append("rect").attr("x", L).attr("y", 0).attr("width", R - L).attr("height", PH)
    .attr("fill", "none").attr("stroke", "#000").attr("stroke-width", 2.6);
});

// titles & labels
svg.append("text").attr("x", W / 2).attr("y", 210).attr("text-anchor", "middle")
  .attr("font-size", 41.7).text(titleText);
const zl = svg.append("text").attr("x", (L + R) / 2).attr("y", 352).attr("text-anchor", "middle")
  .attr("font-size", labelFS);
zl.append("tspan").attr("font-style", "italic").text("z");
zl.append("tspan").attr("font-size", 28).attr("dy", 7).text("HI");
svg.append("text").attr("x", (L + R) / 2).attr("y", 3217).attr("text-anchor", "middle")
  .attr("font-size", labelFS).text(xLabelText);
svg.append("text").attr("transform", `translate(208,1775) rotate(-90)`)
  .attr("text-anchor", "middle").attr("font-size", labelFS).text(yLabelText);
</script>
</body></html>
